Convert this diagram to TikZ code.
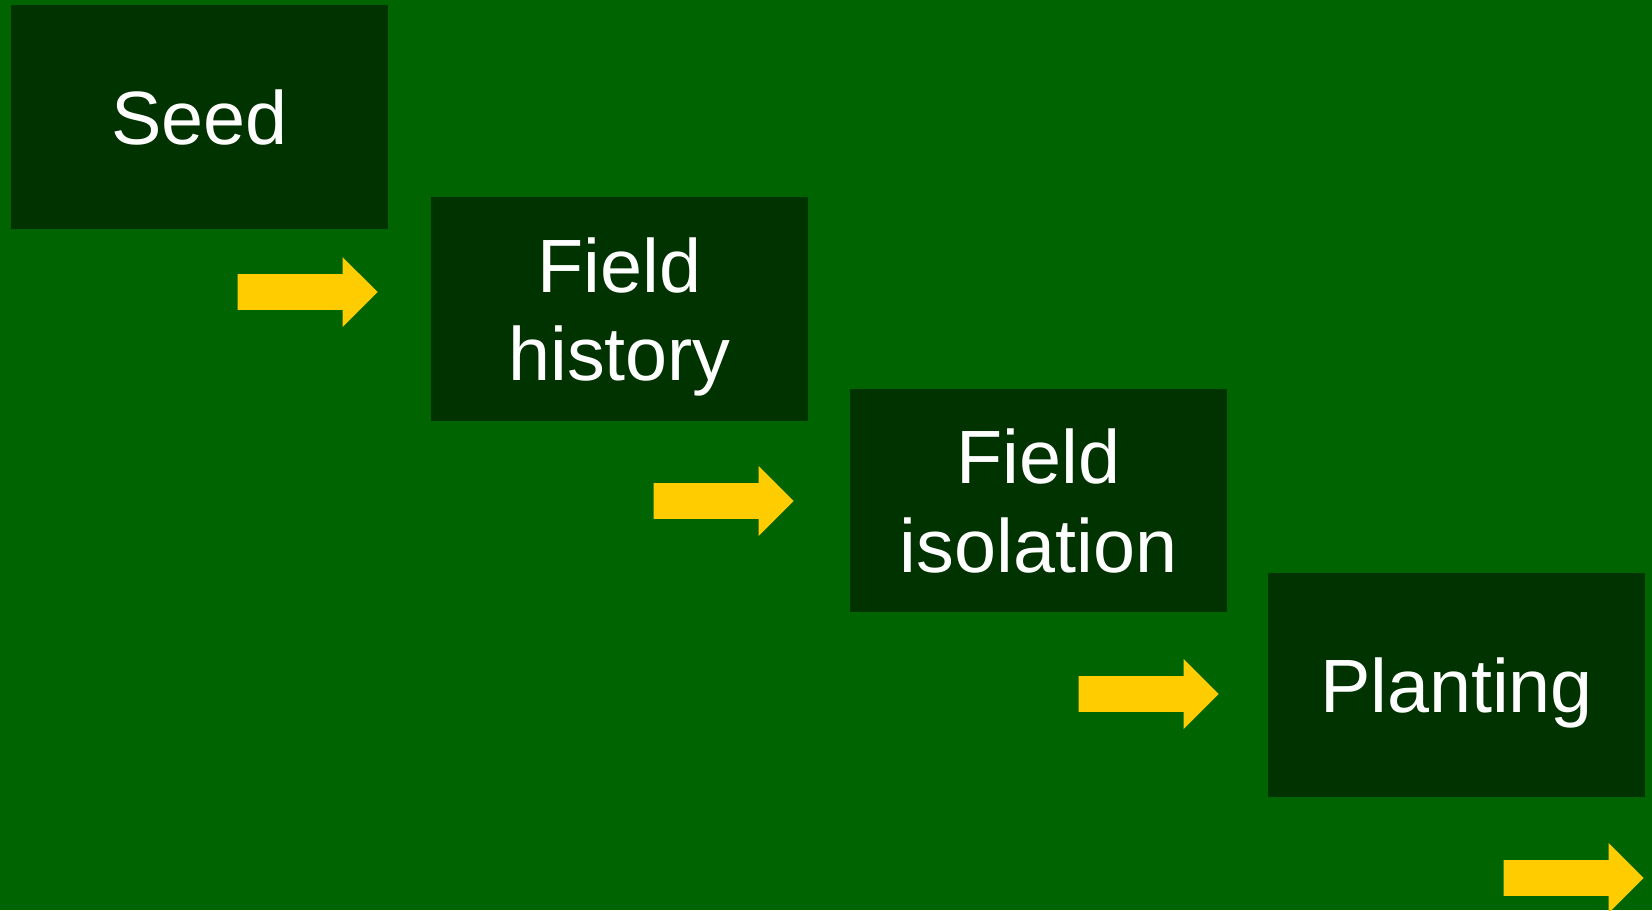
\documentclass[tikz,border=0pt]{standalone}
\usepackage{fontspec}
\setmainfont{Liberation Sans}
\usepackage{tikz}
\usetikzlibrary{shapes.arrows}
\usetikzlibrary{positioning}
\definecolor{bggreen}{HTML}{006400}
\definecolor{boxgreen}{HTML}{003300}
\definecolor{arrowyellow}{HTML}{FFCC00}

\begin{document}
\begin{tikzpicture}[x=0.02cm,y=-0.02cm]
 \tikzstyle{stage node}=[rectangle,fill=boxgreen,text=white,inner sep=0,minimum width=7.54cm,minimum height=4.48cm,align=center,text depth=0pt,font=\fontsize{43}{50.5}\selectfont]
 \tikzset{
 	go arrow/.style={single arrow,fill=arrowyellow,anchor=tip,inner xsep=0,inner ysep=0.35cm,text height=0pt,text depth=0pt,minimum height=2.8cm,single arrow head extend=0.34cm,single arrow tip angle=90}
 }

       \fill[bggreen] (0,0) rectangle (1652,910);
       \useasboundingbox (0,0) rectangle (1652,910);

       \node[stage node] (seed) at (199.5,117) {Seed};
       \node[stage node] (hist) at (619.5,309) {Field\\history};
       \node[stage node] (iso) at (1038.5,500.5) {Field\\isolation};
       \node[stage node] (plant) at (1456.5,685) {Planting};

       \node[go arrow] (a1) at (378,292) {};
       \node[go arrow] (a2) at (794,501) {};
       \node[go arrow] (a3) at (1219,694) {};
       \node[go arrow] (a4) at (1644,878) {};

\end{tikzpicture}
\end{document}
